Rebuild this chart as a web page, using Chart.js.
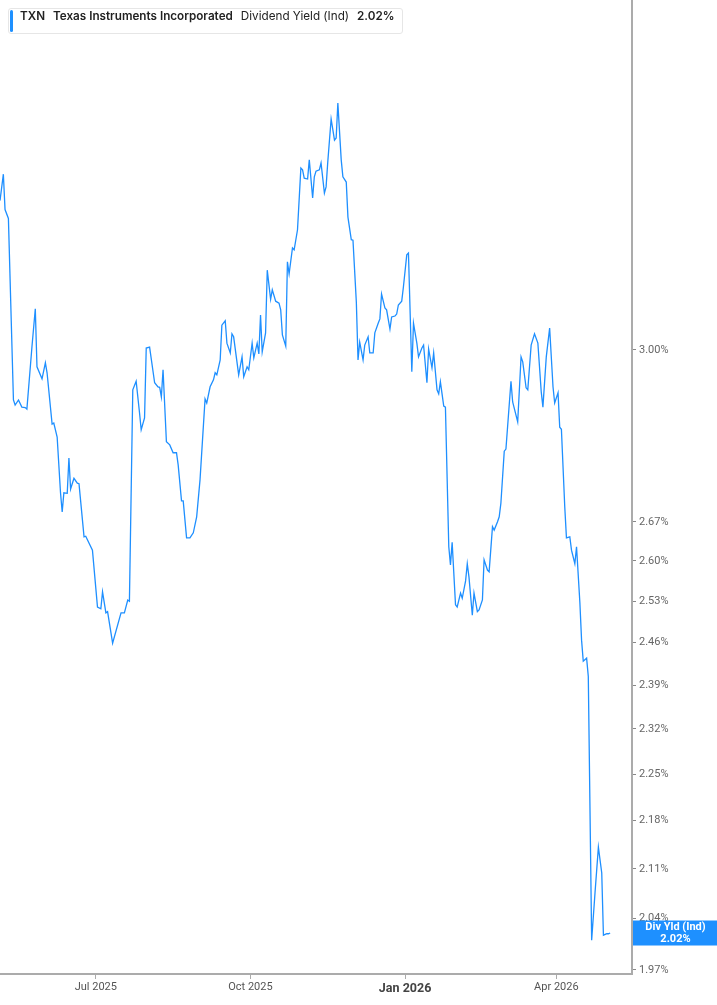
<!DOCTYPE html>
<html>
<head>
<meta charset="utf-8">
<script src="https://cdn.jsdelivr.net/npm/chart.js@4.4.1/dist/chart.umd.min.js"></script>
<style>
  body { margin: 0; background: #fff; }
  #wrap { position: relative; width: 717px; height: 1005px; }
  #legend {
    position: absolute; left: 8px; top: 8px; height: 24px; line-height: 24px;
    padding: 0 7px 0 11px; border: 1px solid #e6e6e6; border-radius: 3px;
    background: #fff; font: 11.7px Inter, sans-serif; color: #222; white-space: nowrap;
  }
  #legend::before {
    content: ''; position: absolute; left: 1px; top: 1px; bottom: 1px; width: 3px;
    background: #1e90ff; border-radius: 2px;
  }
  #legend span { margin-right: 8px; }
  #legend .b { font-weight: 600; }
</style>
</head>
<body>
<div id="wrap">
  <canvas id="yield-chart" width="717" height="1005"></canvas>
  <div id="legend"><span class="b">TXN</span><span class="b">Texas Instruments Incorporated</span><span>Dividend Yield (Ind)</span><span class="b" style="margin-right:0">2.02%</span></div>
</div>
<script>
// days since 1 Jan 2025
const days = [
  124,126,127,129,132,133,135,137,139,140,
  143,145,146,149,151,152,155,156,158,160,
  161,162,164,165,166,168,170,171,174,175,
  179,182,184,185,187,188,191,196,198,200,
  201,203,205,207,208,210,211,213,216,218,
  219,220,221,223,225,227,229,230,232,233,
  235,237,239,241,243,246,247,249,251,252,
  253,255,256,258,259,261,262,263,266,268,
  269,271,272,274,275,277,278,279,280,282,
  283,285,286,288,290,291,292,294,295,296,
  298,299,301,303,304,305,307,308,310,311,
  312,314,315,317,318,319,321,323,324,325,
  327,328,330,331,333,334,336,337,338,340,
  341,343,344,346,347,349,350,351,353,354,
  356,357,359,360,361,363,364,366,367,369,
  370,372,373,375,376,378,379,381,382,384,385,
  386,388,389,391,392,393,395,396,398,399,
  401,402,403,405,406,408,409,411,412,414,
  415,417,418,420,421,422,424,425,428,429,
  432,434,435,437,438,440,442,444,446,447,
  449,451,453,454,456,457,458,460,461,463,
  464,466,467,469,470,471,473,474,476,478,
  480,482,483,485,486,487
];

// dividend yield (%)
const yieldPct = [
  3.32,3.38,3.30,3.28,2.90,2.89,2.90,2.886,2.885,2.882,
  3.006,3.085,2.966,2.942,2.974,2.954,2.853,2.855,2.828,2.723,
  2.688,2.723,2.722,2.788,2.730,2.750,2.741,2.740,2.643,2.644,
  2.619,2.520,2.517,2.546,2.510,2.512,2.459,2.510,2.510,2.532,
  2.530,2.920,2.937,2.875,2.842,2.865,3.004,3.006,2.934,2.926,
  2.925,2.906,2.960,2.819,2.813,2.798,2.798,2.775,2.708,2.708,
  2.641,2.641,2.650,2.679,2.747,2.902,2.894,2.926,2.940,2.954,
  2.950,2.980,3.051,3.060,3.014,2.994,3.033,3.027,2.950,2.986,
  2.946,2.966,2.960,3.014,2.984,3.014,2.992,3.072,2.996,3.035,
  3.167,3.105,3.125,3.101,3.097,3.083,3.031,3.008,3.185,3.159,
  3.215,3.211,3.255,3.394,3.390,3.371,3.369,3.413,3.326,3.374,
  3.387,3.390,3.406,3.337,3.351,3.408,3.509,3.459,3.464,3.547,
  3.413,3.374,3.362,3.283,3.233,3.232,3.099,2.980,3.016,2.980,
  3.010,3.027,2.994,2.994,3.035,3.055,3.064,3.116,3.087,3.083,
  3.043,3.068,3.070,3.074,3.093,3.101,3.131,3.200,3.204,2.956,
  3.055,3.014,2.986,3.004,3.010,2.934,3.002,2.964,2.994,2.920,2.912,
  2.936,2.888,2.886,2.625,2.593,2.633,2.524,2.520,2.544,2.535,
  2.565,2.595,2.572,2.506,2.544,2.512,2.515,2.532,2.602,2.584,
  2.581,2.661,2.655,2.670,2.679,2.704,2.801,2.805,2.937,2.896,
  2.857,2.986,2.976,2.924,2.920,3.010,3.033,3.014,2.916,2.886,
  2.986,3.045,2.926,2.894,2.914,2.847,2.843,2.697,2.641,2.643,
  2.619,2.595,2.625,2.527,2.464,2.429,2.434,2.404,2.010,2.076,
  2.141,2.104,2.017,2.019,2.019,2.020
];

const monthTicks = [181, 273, 365, 455];
const monthLabels = ['Jul 2025', 'Oct 2025', 'Jan 2026', 'Apr 2026'];
const yTicks = [3.00, 2.67, 2.60, 2.53, 2.46, 2.39, 2.32, 2.25, 2.18, 2.11, 2.04, 1.97];
const latestLabel = '2.02%';

const lineColor = '#1e8fff';

const lastValueTag = {
  id: 'lastValueTag',
  afterDraw(chart) {
    const { ctx, chartArea, scales } = chart;
    const y = scales.y.getPixelForValue(yieldPct[yieldPct.length - 1]);
    ctx.save();
    ctx.fillStyle = '#1e90ff';
    ctx.fillRect(chartArea.right + 1, y - 12.5, chart.width - chartArea.right - 1, 25);
    ctx.fillStyle = '#fff';
    ctx.font = 'bold 11px Roboto';
    ctx.textAlign = 'center';
    ctx.textBaseline = 'middle';
    const cx = (chartArea.right + chart.width) / 2 + 1;
    ctx.fillText('Div Yld (Ind)', cx, y - 5.5);
    ctx.fillText(latestLabel, cx, y + 6);
    ctx.restore();
  }
};

const ctx = document.getElementById('yield-chart');

new Chart(ctx, {
  type: 'line',
  data: {
    datasets: [{
      data: days.map((d, i) => ({ x: d, y: yieldPct[i] })),
      borderColor: lineColor,
      borderWidth: 1.3,
      pointRadius: 0,
      tension: 0
    }]
  },
  options: {
    responsive: false,
    animation: false,
    layout: { padding: 0 },
    plugins: {
      legend: { display: false },
      tooltip: { enabled: false }
    },
    scales: {
      x: {
        type: 'linear',
        min: 124,
        max: 500,
        afterBuildTicks: s => { s.ticks = monthTicks.map(v => ({ value: v })); },
        afterFit: s => { s.height = 31; s.paddingLeft = 0; s.paddingRight = 0; },
        border: { color: '#ababab', width: 2 },
        grid: { drawOnChartArea: false, tickLength: 5, color: '#ababab' },
        ticks: {
          padding: 2,
          maxRotation: 0,
          autoSkip: false,
          color: ctx => ctx.tick && ctx.tick.value === 365 ? '#444' : '#555',
          font: ctx => ctx.tick && ctx.tick.value === 365
            ? { family: 'Roboto', size: 12.5, weight: 'bold' }
            : { family: 'Roboto', size: 11 },
          callback: v => monthLabels[monthTicks.indexOf(v)]
        }
      },
      y: {
        type: 'logarithmic',
        position: 'right',
        min: 1.9646,
        max: 3.804,
        afterBuildTicks: s => { s.ticks = yTicks.map(v => ({ value: v })); },
        afterFit: s => { s.width = 85; s.paddingTop = 0; s.paddingBottom = 0; },
        border: { color: '#ababab', width: 2 },
        grid: { drawOnChartArea: false, tickLength: 4, color: '#888' },
        ticks: {
          padding: 3,
          autoSkip: false,
          color: '#666',
          font: { family: 'Roboto', size: 11 },
          callback: v => v.toFixed(2) + '%'
        }
      }
    }
  },
  plugins: [lastValueTag]
});
</script>
</body>
</html>
